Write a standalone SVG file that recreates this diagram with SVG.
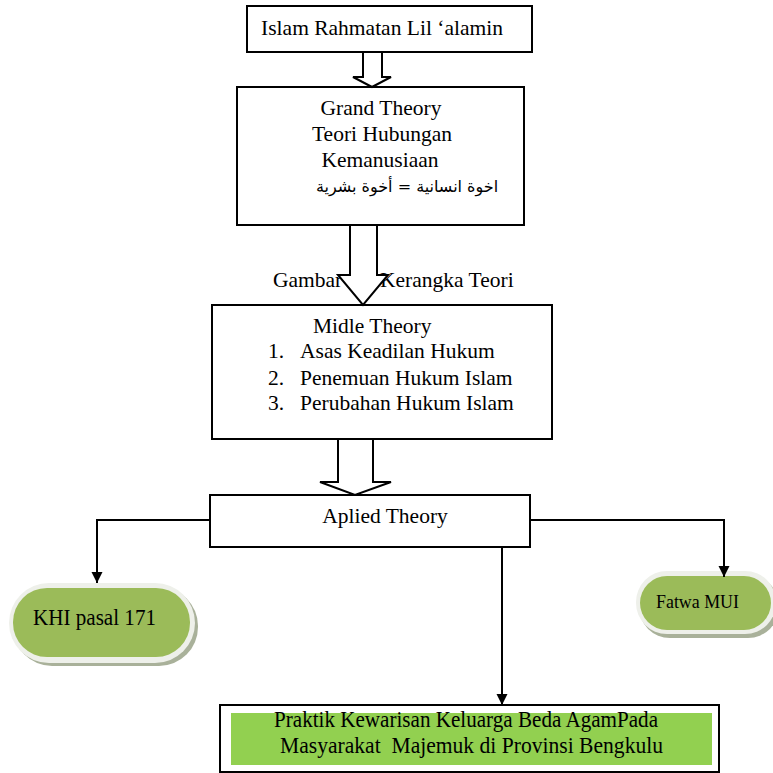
<svg xmlns="http://www.w3.org/2000/svg" width="773" height="773" viewBox="0 0 773 773">
<style>
.box{fill:#fff;stroke:#000;stroke-width:2}
.t{font-family:"Liberation Serif","Times New Roman",serif;font-size:21.5px;fill:#000}
.c{text-anchor:middle}
.ar{font-family:"DejaVu Sans",sans-serif;font-size:16px;fill:#000}
.conn{fill:none;stroke:#000;stroke-width:2}
.blk{fill:#fff;stroke:#000;stroke-width:2;stroke-linejoin:miter}
.pillbg{fill:#eef0ea}
.pillsh{fill:#a9b19a}
.pill{fill:#9bbb59}
</style>
<defs>
<marker id="ah" viewBox="0 0 10 10" refX="10" refY="5" markerWidth="11" markerHeight="13" markerUnits="userSpaceOnUse" orient="auto">
<path d="M0,0 L10,5 L0,10 z" fill="#000"/>
</marker>
</defs>
<rect width="773" height="773" fill="#fff"/>

<g id="caption">
<text class="t" x="273" y="287">Gambar</text>
<text class="t" x="380" y="287">Kerangka Teori</text>
</g>

<g id="node-islam">
<rect class="box" x="247" y="6" width="285" height="46"/>
<text class="t c" x="382" y="35">Islam Rahmatan Lil ‘alamin</text>
</g>

<g id="node-grand">
<rect class="box" x="237" y="87" width="287" height="138"/>
<text class="t c" x="381" y="115">Grand Theory</text>
<text class="t c" x="382" y="141">Teori Hubungan</text>
<text class="t c" x="380" y="167">Kemanusiaan</text>
<text class="ar c" x="407" y="192" direction="rtl">اخوة انسانية = أخوة بشرية</text>
</g>

<g id="node-midle">
<rect class="box" x="212" y="305" width="340" height="134"/>
<text class="t" x="313" y="333">Midle Theory</text>
<text class="t" x="268" y="358">1.</text>
<text class="t" x="300" y="358">Asas Keadilan Hukum</text>
<text class="t" x="268" y="385">2.</text>
<text class="t" x="300" y="385">Penemuan Hukum Islam</text>
<text class="t" x="268" y="410">3.</text>
<text class="t" x="300" y="410">Perubahan Hukum Islam</text>
</g>

<g id="node-aplied">
<rect class="box" x="210" y="495" width="320" height="52"/>
<text class="t c" x="385" y="523">Aplied Theory</text>
</g>

<g id="node-khi">
<rect class="pillsh" x="13" y="587" width="185" height="79" rx="39"/>
<rect class="pillbg" x="9" y="583" width="186" height="80" rx="40"/>
<rect class="pill" x="13" y="588" width="177" height="69" rx="34"/>
<text class="t" x="33" y="625" font-size="24" textLength="123" lengthAdjust="spacingAndGlyphs" style="font-size:24px">KHI pasal 171</text>
</g>

<g id="node-fatwa">
<rect class="pillsh" x="639" y="575" width="140" height="63" rx="31"/>
<rect class="pillbg" x="636" y="571" width="140" height="63" rx="31"/>
<rect class="pill" x="640" y="576" width="131" height="54" rx="27"/>
<text class="t" x="656" y="608" textLength="83" lengthAdjust="spacingAndGlyphs" style="font-size:19px">Fatwa MUI</text>
</g>

<g id="node-praktik">
<rect class="box" x="220" y="705" width="499" height="67"/>
<rect x="231" y="713" width="481" height="52" fill="#92d050"/>
<text class="t" x="274" y="727" textLength="384" lengthAdjust="spacingAndGlyphs" style="font-size:23px">Praktik Kewarisan Keluarga Beda AgamPada</text>
<text class="t" x="280" y="753" textLength="383" lengthAdjust="spacingAndGlyphs" style="font-size:23px;white-space:pre" xml:space="preserve">Masyarakat  Majemuk di Provinsi Bengkulu</text>
</g>

<g id="connectors">
<polygon class="blk" points="363,52 363,77 353,77 372,87 391,77 382,77 382,52"/>
<polygon class="blk" points="350,225 350,275 338,275 363,305 388,275 377,275 377,225"/>
<polygon class="blk" points="338,439 338,482 320,482 355,495 391,482 373,482 373,439"/>
<path class="conn" d="M210,520 H97 V583" marker-end="url(#ah)"/>
<path class="conn" d="M530,520 H724 V577" marker-end="url(#ah)"/>
<path class="conn" d="M502,547 V705" marker-end="url(#ah)"/>
</g>
</svg>
